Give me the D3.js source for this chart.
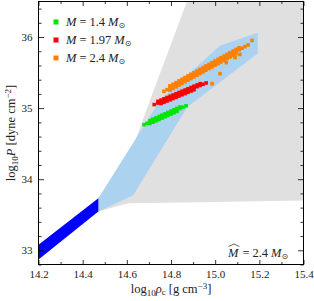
<!DOCTYPE html>
<html><head><meta charset="utf-8">
<script src="https://cdn.jsdelivr.net/npm/d3@7"></script>
<style>
body{margin:0;background:#fff}
svg{display:block}
text{font-family:"Liberation Serif","Times New Roman",serif;fill:#222}
</style>
</head><body><svg id="c" width="314" height="301" font-family="Liberation Serif"></svg>
<script>
// ---------------- data ----------------
const xMajorTicks = [14.2, 14.4, 14.6, 14.8, 15.0, 15.2, 15.4];
const xTickLabels = ["14.2", "14.4", "14.6", "14.8", "15.0", "15.2", "15.4"];
const xMinorTicks = [14.3, 14.5, 14.7, 14.9, 15.1, 15.3];
const yMajorTicks = [33, 34, 35, 36];
const yTickLabels = ["33", "34", "35", "36"];
const yMinorTicks = [32.8, 33.2, 33.4, 33.6, 33.8, 34.2, 34.4, 34.6, 34.8, 35.2, 35.4, 35.6, 35.8, 36.2, 36.4];

// allowed region (gray)
const grayRegion = [[14.872, 36.5], [15.4, 36.5], [15.4, 33.70], [15.0, 33.68], [14.607, 33.663],
  [14.471, 33.545], [14.52, 33.70], [14.639, 34.548], [14.705, 35.11]];
// light-blue band
const lightBlueRegion = [[14.471, 33.733], [14.750, 35.11], [15.022, 35.88], [15.193, 36.06],
  [15.193, 35.77], [14.874, 35.015], [14.629, 33.775], [14.471, 33.545]];
// dark-blue band (known EOS at low density)
const darkBlueRegion = [[14.2, 33.079], [14.471, 33.733], [14.471, 33.545], [14.2, 32.869]];

const seriesNames = ["M = 1.4", "M = 1.97", "M = 2.4"];
const seriesColors = ["#00e600", "#ff0000", "#ff8000"];

const green = [
  [14.678, 34.767], [14.691, 34.785], [14.705, 34.804], [14.718, 34.823], [14.732, 34.842], [14.746, 34.861],
  [14.759, 34.880], [14.773, 34.899], [14.786, 34.918], [14.800, 34.937], [14.814, 34.956], [14.827, 34.975],
  [14.841, 34.994], [14.854, 35.013], [14.868, 35.032],
  [14.705, 34.825], [14.718, 34.844], [14.732, 34.863], [14.746, 34.882], [14.759, 34.901], [14.773, 34.920],
  [14.786, 34.939], [14.800, 34.958], [14.814, 34.977], [14.827, 34.996], [14.841, 35.015],
  [14.705, 34.785], [14.718, 34.802], [14.732, 34.821], [14.746, 34.840], [14.759, 34.859], [14.773, 34.878],
  [14.786, 34.897], [14.800, 34.916], [14.814, 34.935], [14.827, 34.954]
];
const red = [
  [14.724, 35.050], [14.741, 35.071], [14.755, 35.089], [14.768, 35.106], [14.782, 35.124], [14.796, 35.142],
  [14.809, 35.159], [14.823, 35.177], [14.836, 35.195], [14.850, 35.213], [14.864, 35.230], [14.877, 35.248],
  [14.891, 35.266], [14.904, 35.283], [14.918, 35.301], [14.932, 35.319], [14.945, 35.336], [14.959, 35.354],
  [14.741, 35.095], [14.755, 35.113], [14.768, 35.131], [14.782, 35.149], [14.796, 35.167], [14.809, 35.184],
  [14.823, 35.202], [14.836, 35.220], [14.850, 35.238], [14.864, 35.255], [14.877, 35.273], [14.891, 35.290],
  [14.904, 35.308], [14.918, 35.326], [14.932, 35.344],
  [14.755, 35.066], [14.768, 35.082], [14.782, 35.100], [14.796, 35.117], [14.809, 35.135], [14.823, 35.152],
  [14.836, 35.170], [14.850, 35.188], [14.864, 35.205], [14.877, 35.223], [14.891, 35.241], [14.904, 35.258]
];
const orange = [
  [14.768, 35.236], [14.782, 35.259], [14.795, 35.283], [14.809, 35.306], [14.823, 35.329], [14.836, 35.353],
  [14.850, 35.376], [14.863, 35.399], [14.877, 35.423], [14.890, 35.446], [14.904, 35.469], [14.918, 35.493],
  [14.931, 35.516], [14.945, 35.539], [14.958, 35.563], [14.972, 35.586], [14.986, 35.609], [14.999, 35.633],
  [15.013, 35.656], [15.026, 35.679], [15.040, 35.703], [15.054, 35.726], [15.067, 35.749], [15.081, 35.773],
  [15.094, 35.796], [15.108, 35.819], [15.122, 35.843], [15.135, 35.866], [15.149, 35.889],
  [14.795, 35.313], [14.809, 35.336], [14.823, 35.359], [14.836, 35.383], [14.850, 35.406], [14.863, 35.429],
  [14.877, 35.453], [14.890, 35.476], [14.904, 35.499], [14.918, 35.523], [14.931, 35.546], [14.945, 35.569],
  [14.958, 35.593], [14.972, 35.616], [14.986, 35.639], [14.999, 35.663], [15.013, 35.686], [15.026, 35.709],
  [15.040, 35.733], [15.054, 35.756], [15.067, 35.779], [15.081, 35.803], [15.094, 35.826], [15.108, 35.849],
  [14.795, 35.253], [14.809, 35.276], [14.823, 35.299], [14.836, 35.323], [14.850, 35.346], [14.863, 35.369],
  [14.877, 35.393], [14.890, 35.416], [14.904, 35.439], [14.918, 35.463], [14.931, 35.486], [14.945, 35.509],
  [14.958, 35.533], [14.972, 35.556], [14.986, 35.579], [14.999, 35.603], [15.013, 35.626], [15.026, 35.649],
  [15.040, 35.673], [15.054, 35.696], [15.067, 35.719], [15.081, 35.743], [15.094, 35.766],
  [14.986, 35.344], [15.022, 35.485], [15.167, 35.952], [15.090, 35.713], [15.112, 35.756], [15.050, 35.640]
];
const seriesData = [green, red, orange];

// ---------------- drawing ----------------
const FONT = '"Liberation Serif", serif';
const svg = d3.select("#c");
const x = d3.scaleLinear().domain([14.2, 15.4]).range([38.5, 303.5]);
const y = d3.scaleLinear().domain([32.8, 36.5]).range([264.5, 1.5]);

svg.append("clipPath").attr("id", "clip").append("rect")
  .attr("x", x(14.2)).attr("y", y(36.5)).attr("width", x(15.4) - x(14.2)).attr("height", y(32.8) - y(36.5));
const plot = svg.append("g").attr("clip-path", "url(#clip)");
const line = d3.line().x(d => x(d[0])).y(d => y(d[1]));

plot.append("path").attr("d", line(grayRegion) + "Z").attr("fill", "#e0e0e0");
plot.append("path").attr("d", line(lightBlueRegion) + "Z").attr("fill", "#abd3ef");
plot.append("path").attr("d", line(darkBlueRegion) + "Z").attr("fill", "#0000ff");

const ms = 3.6;
seriesData.forEach((pts, i) => {
  plot.append("g").selectAll("rect").data(pts).join("rect")
    .attr("x", d => x(d[0]) - ms / 2).attr("y", d => y(d[1]) - ms / 2)
    .attr("width", ms).attr("height", ms).attr("fill", seriesColors[i]);
});

// axes
function styleAxis(g) {
  g.attr("font-family", FONT);
  g.select(".domain").remove();
  g.selectAll(".tick line").attr("stroke", "#000").attr("stroke-width", 0.8);
  g.selectAll("text").attr("font-size", 11).attr("fill", "#222").style("font-family", FONT);
}
const H = y(32.8), W = x(15.4);
svg.append("g").attr("transform", `translate(0,${H})`)
  .call(d3.axisBottom(x).tickValues(xMajorTicks).tickFormat((d, i) => xTickLabels[i]).tickSize(-4.5).tickSizeOuter(0).tickPadding(6))
  .call(styleAxis);
svg.append("g").attr("transform", `translate(0,${H})`)
  .call(d3.axisBottom(x).tickValues(xMinorTicks).tickFormat("").tickSize(-2.5).tickSizeOuter(0)).call(styleAxis);
svg.append("g").attr("transform", `translate(0,${y(36.5)})`)
  .call(d3.axisTop(x).tickValues(xMajorTicks).tickFormat("").tickSize(-4.5).tickSizeOuter(0)).call(styleAxis);
svg.append("g").attr("transform", `translate(0,${y(36.5)})`)
  .call(d3.axisTop(x).tickValues(xMinorTicks).tickFormat("").tickSize(-2.5).tickSizeOuter(0)).call(styleAxis);
svg.append("g").attr("transform", `translate(${x(14.2)},0)`)
  .call(d3.axisLeft(y).tickValues(yMajorTicks).tickFormat((d, i) => yTickLabels[i]).tickSize(-5.5).tickSizeOuter(0).tickPadding(6))
  .call(styleAxis);
svg.append("g").attr("transform", `translate(${x(14.2)},0)`)
  .call(d3.axisLeft(y).tickValues(yMinorTicks).tickFormat("").tickSize(-3).tickSizeOuter(0)).call(styleAxis);
svg.append("g").attr("transform", `translate(${W},0)`)
  .call(d3.axisRight(y).tickValues(yMajorTicks).tickFormat("").tickSize(-5.5).tickSizeOuter(0)).call(styleAxis);
svg.append("g").attr("transform", `translate(${W},0)`)
  .call(d3.axisRight(y).tickValues(yMinorTicks).tickFormat("").tickSize(-3).tickSizeOuter(0)).call(styleAxis);

svg.append("rect").attr("x", x(14.2)).attr("y", y(36.5)).attr("width", W - x(14.2)).attr("height", H - y(36.5))
  .attr("fill", "none").attr("stroke", "#000").attr("stroke-width", 1);

// axis labels
const xl = svg.append("text").attr("x", (x(14.2) + W) / 2).attr("y", 293).attr("text-anchor", "middle")
  .attr("font-size", 12.5).style("font-family", FONT);
xl.append("tspan").text("log");
xl.append("tspan").attr("font-size", 9).attr("dy", 2.5).text("10");
xl.append("tspan").attr("font-style", "italic").attr("dy", -2.5).text("ρ");
xl.append("tspan").attr("font-size", 9).attr("dy", 2).text("c");
xl.append("tspan").attr("dy", -2).text(" [g cm");
xl.append("tspan").attr("font-size", 9).attr("dy", -4.5).text("−3");
xl.append("tspan").attr("dy", 4.5).text("]");

const yl = svg.append("text").attr("transform", `translate(15,${(y(36.5) + H) / 2}) rotate(-90)`)
  .attr("text-anchor", "middle").attr("font-size", 12.5).style("font-family", FONT);
yl.append("tspan").text("log");
yl.append("tspan").attr("font-size", 9).attr("dy", 2.5).text("10");
yl.append("tspan").attr("font-style", "italic").attr("dy", -2.5).text("P");
yl.append("tspan").text(" [dyne cm");
yl.append("tspan").attr("font-size", 9).attr("dy", -4.5).text("−2");
yl.append("tspan").attr("dy", 4.5).text("]");

// legend
const legY = [22, 40, 58];
seriesNames.forEach((nm, i) => {
  svg.append("rect").attr("x", 53.5).attr("y", legY[i] - 2.5).attr("width", 5).attr("height", 5).attr("fill", seriesColors[i]);
  const t = svg.append("text").attr("x", 66).attr("y", legY[i] + 4).attr("font-size", 12.5).style("font-family", FONT);
  const parts = nm.split(" = ");
  t.append("tspan").attr("font-style", "italic").text(parts[0]);
  t.append("tspan").attr("dx", 3).text("=");
  t.append("tspan").attr("dx", 3).text(parts[1]);
  t.append("tspan").attr("dx", 3).attr("font-style", "italic").text("M");
  t.append("tspan").attr("font-size", 8).attr("dy", 2).style("font-family", '"DejaVu Sans"').text("⊙");
});

// annotation with hat
const annX = 228, annY = 257;
const mh = svg.append("text").attr("x", annX).attr("y", annY).attr("font-size", 12.5)
  .attr("font-style", "italic").style("font-family", FONT).text("M");
const mw = mh.node().getComputedTextLength();
svg.append("path").attr("d", `M${annX + 0.5},${annY - 10.5} L${annX + mw / 2 + 0.8},${annY - 13} L${annX + mw + 1},${annY - 10.5}`)
  .attr("fill", "none").attr("stroke", "#222").attr("stroke-width", 0.7);
const at = svg.append("text").attr("x", annX + mw + 1).attr("y", annY).attr("font-size", 12.5).style("font-family", FONT);
at.append("tspan").attr("dx", 3).text("=");
at.append("tspan").attr("dx", 3).text("2.4");
at.append("tspan").attr("dx", 3).attr("font-style", "italic").text("M");
at.append("tspan").attr("font-size", 8).attr("dy", 2).style("font-family", '"DejaVu Sans"').text("⊙");
</script></body></html>
